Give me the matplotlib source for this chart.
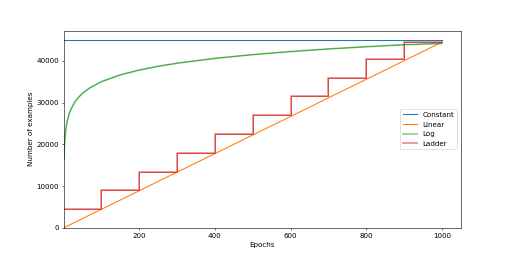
import numpy as np
import matplotlib
matplotlib.use('Agg')
from matplotlib import pyplot as plt

# values
total = 45000
lin_epochs = [0, 1000]
lin_values = [0, 44500]
log_epochs = [1, 2, 3, 4, 5, 7, 10, 15, 20, 30, 40, 50, 70, 100, 150, 200, 250, 300,
              400, 500, 600, 700, 800, 900, 1000]
log_values = [16500, 19290, 20920, 22080, 22980, 24330, 25770, 27400, 28560, 30190,
              31350, 32250, 33600, 35040, 36670, 37830, 38730, 39460,
              40620, 41520, 42250, 42880, 43410, 43890, 44200]
ladder_epochs = [0, 100, 200, 300, 400, 500, 600, 700, 800, 900, 1000]
ladder_values = [4500, 9000, 13500, 18000, 22500, 27000, 31500, 36000, 40500, 44500, 44500]

fig = plt.figure(figsize=(10, 5), dpi=51.2)
ax = fig.add_subplot(111)

ax.plot([0, 1000], [total, total], label='Constant')
ax.plot(lin_epochs, lin_values, label='Linear')
ax.plot(log_epochs, log_values, color='C2', lw=1)
ax.plot(log_epochs, log_values, color='C2', lw=2.5, alpha=0.5, label='Log')
ax.step(ladder_epochs, ladder_values, where='post', color='C3', lw=1)
ax.step(ladder_epochs, ladder_values, where='post', color='C3', lw=2.5, alpha=0.5, label='Ladder')

ax.set_xlim(left=1)
ax.set_ylim(bottom=0)
ax.set_xlabel('Epochs')
ax.set_ylabel('Number of examples')
ax.legend(loc='center right')

plt.savefig('out.png')
